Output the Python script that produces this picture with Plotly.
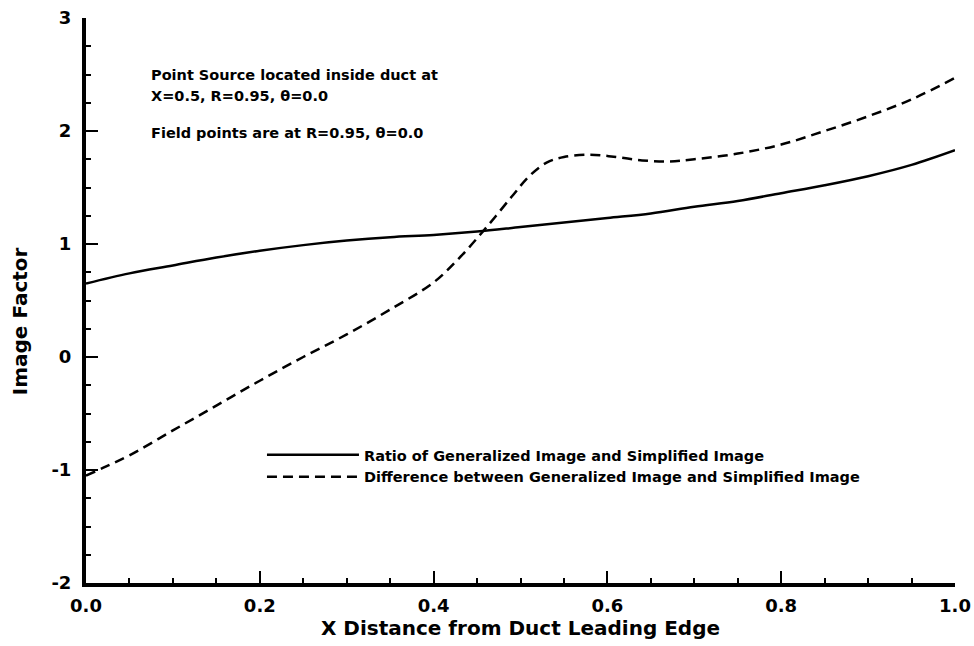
import plotly.graph_objects as go

x_ratio = [0.0, 0.05, 0.1, 0.15, 0.2, 0.25, 0.3, 0.35, 0.4, 0.45, 0.5, 0.55, 0.6,
           0.65, 0.7, 0.75, 0.8, 0.85, 0.9, 0.95, 1.0]
ratio = [0.65, 0.74, 0.81, 0.88, 0.94, 0.99, 1.03, 1.06, 1.08, 1.11, 1.15, 1.19, 1.23,
         1.27, 1.33, 1.38, 1.45, 1.52, 1.60, 1.70, 1.83]

x_diff = [0.0, 0.02, 0.05, 0.1, 0.15, 0.2, 0.25, 0.3, 0.35, 0.4, 0.43, 0.46, 0.49,
          0.51, 0.53, 0.55, 0.58, 0.61, 0.64, 0.67, 0.7, 0.75, 0.8, 0.85, 0.9, 0.95, 1.0]
diff = [-1.05, -0.98, -0.87, -0.65, -0.43, -0.21, 0.0, 0.2, 0.42, 0.66, 0.88, 1.14, 1.42,
        1.6, 1.72, 1.77, 1.79, 1.77, 1.74, 1.73, 1.75, 1.80, 1.88, 2.0, 2.13, 2.28, 2.47]

x_ticks = [0.0, 0.2, 0.4, 0.6, 0.8, 1.0]
x_ticktext = ["0.0", "0.2", "0.4", "0.6", "0.8", "1.0"]
y_ticks = [-2, -1, 0, 1, 2, 3]
y_ticktext = ["-2", "-1", "0", "1", "2", "3"]

name_ratio = "Ratio of Generalized Image and Simplified Image"
name_diff = "Difference between Generalized Image and Simplified Image"
x_title = "X Distance from Duct Leading Edge"
y_title = "Image Factor"
note1 = "Point Source located inside duct at"
note2 = "X=0.5, R=0.95, θ=0.0"
note3 = "Field points are at R=0.95, θ=0.0"

FONT = "DejaVu Sans"

fig = go.Figure()
fig.add_trace(go.Scatter(x=x_ratio, y=ratio, mode="lines", name=name_ratio,
                         line=dict(color="black", width=2.5, shape="spline")))
fig.add_trace(go.Scatter(x=x_diff, y=diff, mode="lines", name=name_diff,
                         line=dict(color="black", width=2.5, dash="10px,6px", shape="spline")))

axis_common = dict(showgrid=False, zeroline=False, showline=True, linecolor="black",
                   linewidth=4, ticks="inside", tickcolor="black", tickwidth=2,
                   ticklen=12, mirror=False, automargin=False,
                   tickfont=dict(family=FONT, size=18, color="black", weight="bold"))

fig.update_xaxes(range=[0, 1], tickvals=x_ticks, ticktext=x_ticktext,
                 minor=dict(ticks="inside", ticklen=5, tickwidth=2, tickcolor="black", dtick=0.05),
                 title=dict(text=x_title, standoff=6,
                            font=dict(family=FONT, size=20, color="black", weight="bold")),
                 ticklabelstandoff=3,
                 **axis_common)
fig.update_yaxes(range=[-2, 3], tickvals=y_ticks, ticktext=y_ticktext,
                 minor=dict(ticks="inside", ticklen=5, tickwidth=2, tickcolor="black", dtick=0.25),
                 ticklabelstandoff=7,
                 **axis_common)

ann_font = dict(family=FONT, size=14.5, color="black", weight="bold")
annotations = [
    dict(x=0.072, y=2.50, text=note1),
    dict(x=0.072, y=2.31, text=note2),
    dict(x=0.072, y=1.98, text=note3),
]
for a in annotations:
    fig.add_annotation(x=a["x"], y=a["y"], xref="x", yref="y", text=a["text"],
                       showarrow=False, xanchor="left", yanchor="middle", font=ann_font)

fig.add_annotation(x=-0.075, y=0.463, xref="paper", yref="paper", text=y_title,
                   textangle=-90, showarrow=False, xanchor="center", yanchor="middle",
                   font=dict(family=FONT, size=20, color="black", weight="bold"))

fig.update_layout(
    width=974, height=646,
    margin=dict(l=86, r=19, t=18, b=63),
    plot_bgcolor="white", paper_bgcolor="white",
    showlegend=True,
    legend=dict(x=0.2025, y=0.255, xanchor="left", yanchor="top",
                bgcolor="rgba(0,0,0,0)", itemwidth=92, tracegroupgap=0,
                font=dict(family=FONT, size=14.5, color="black", weight="bold")),
)

fig.write_html("out.html")
